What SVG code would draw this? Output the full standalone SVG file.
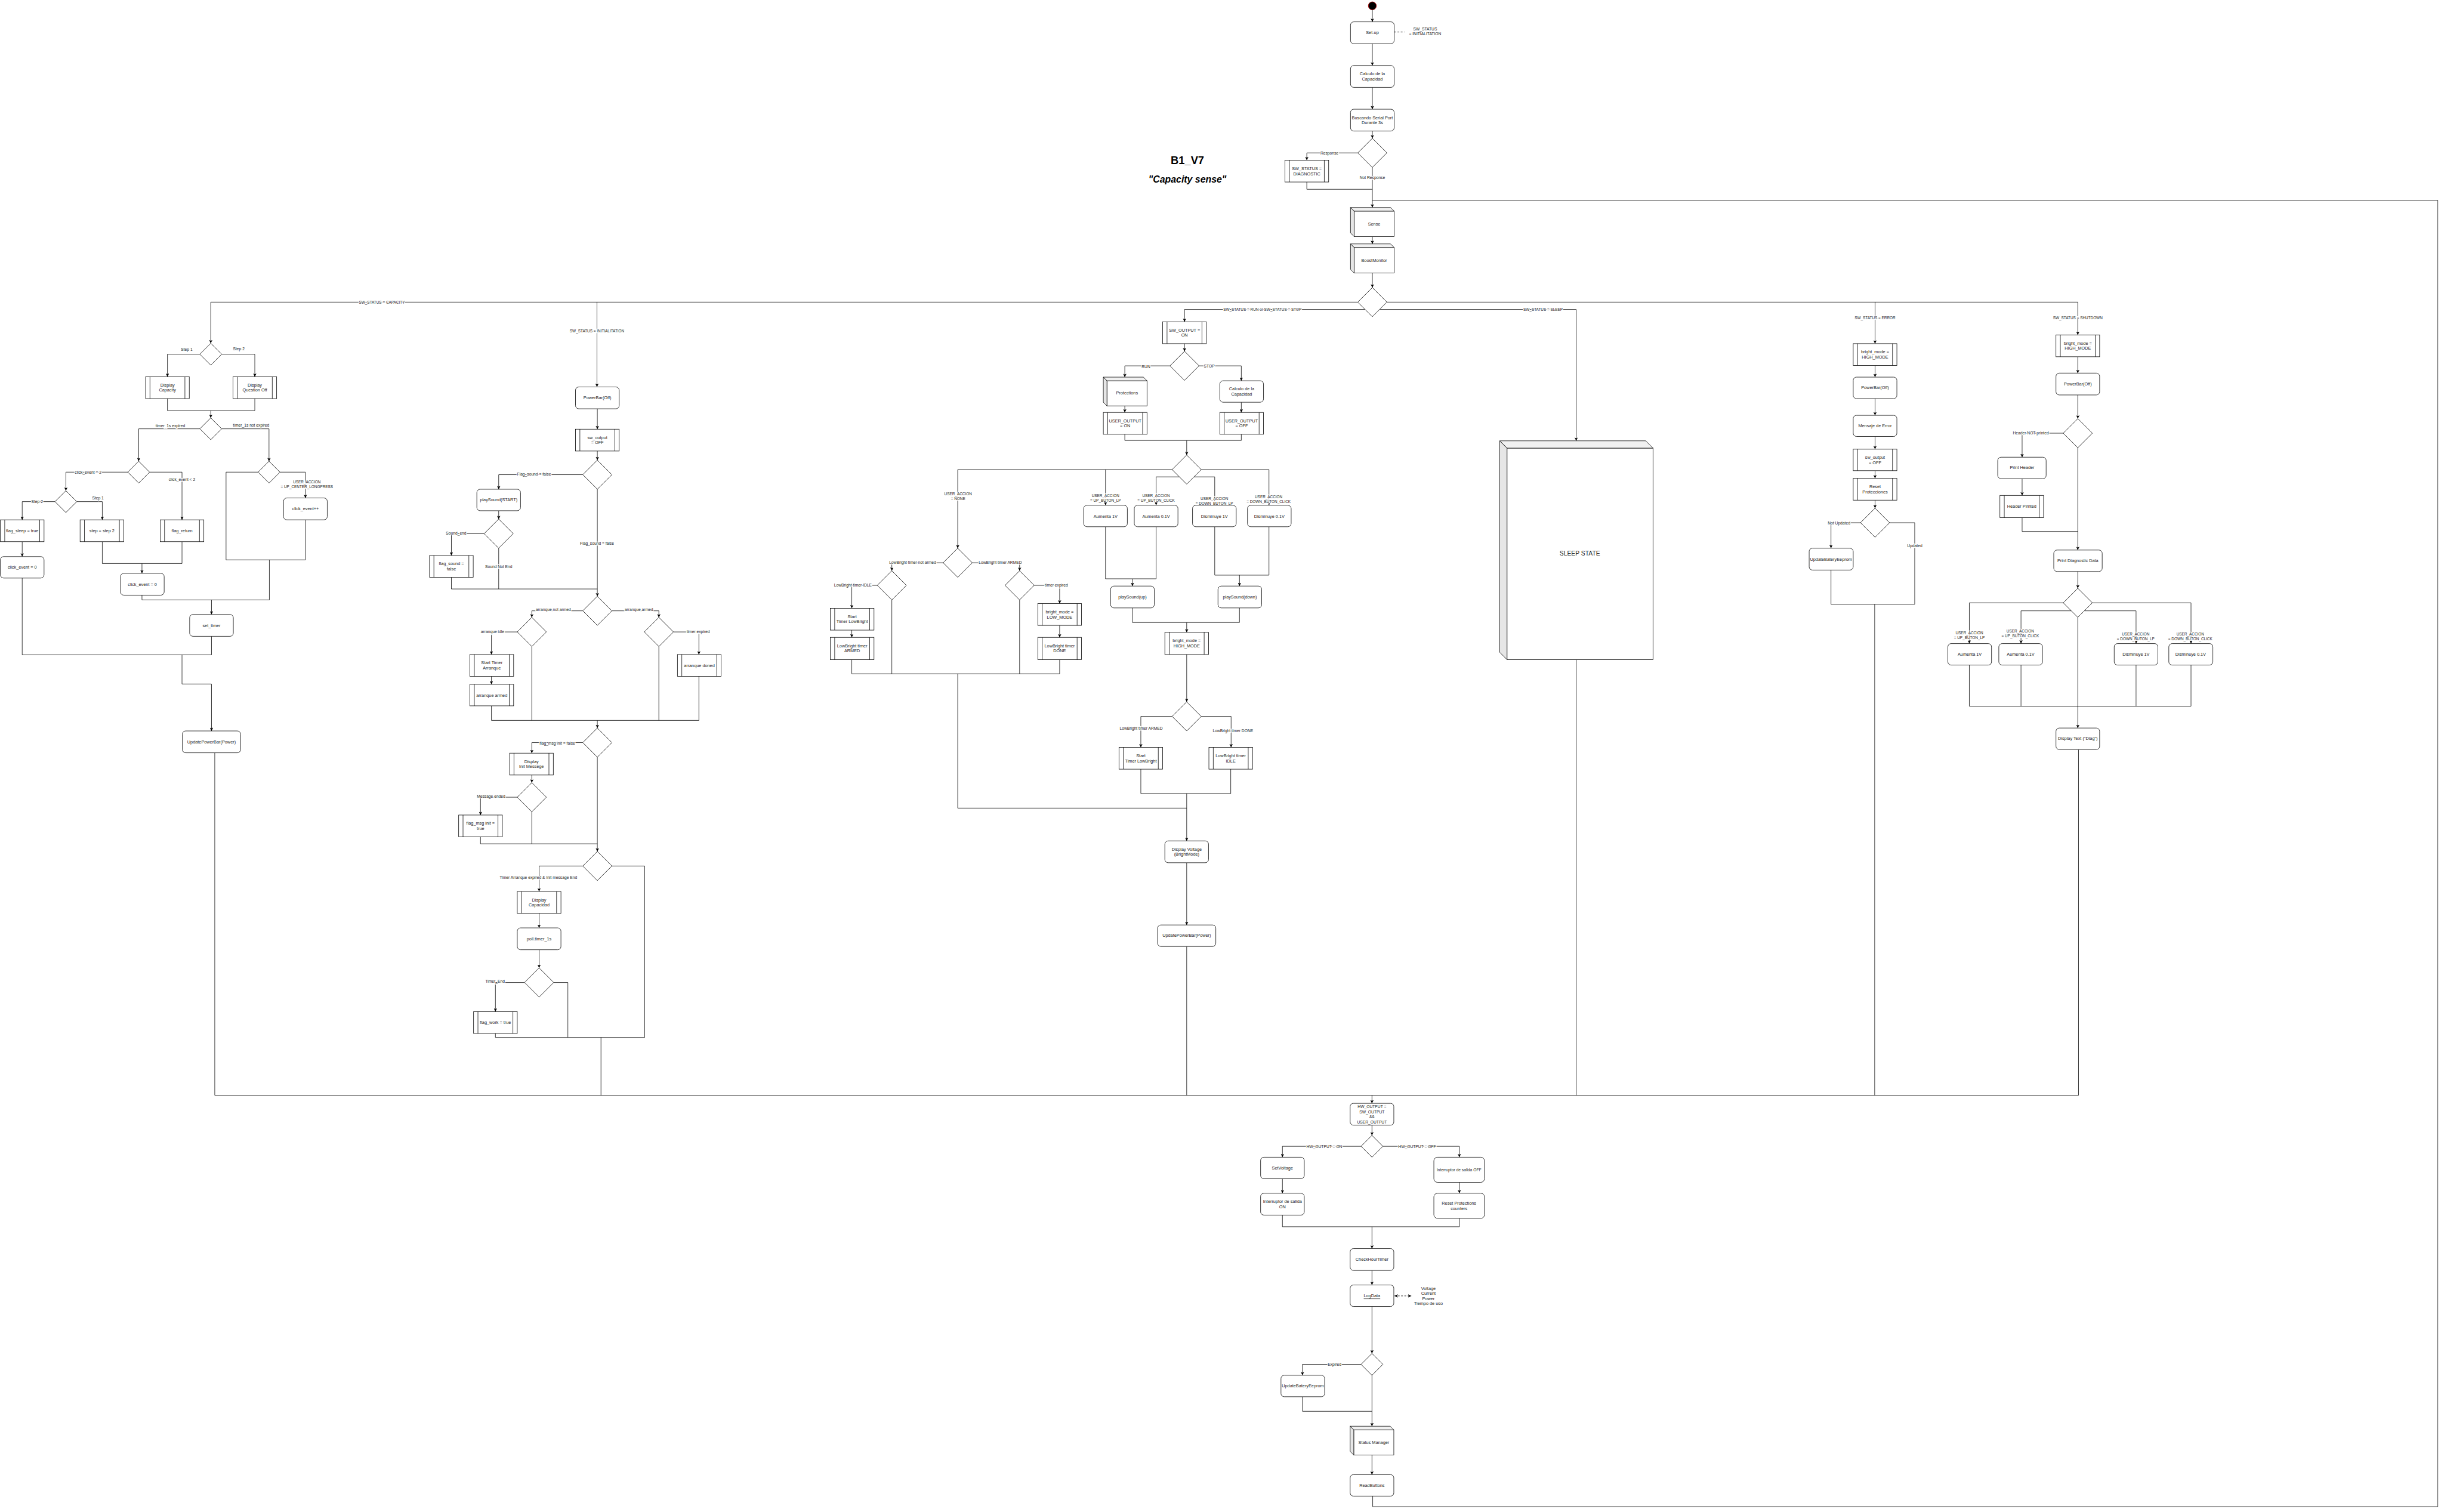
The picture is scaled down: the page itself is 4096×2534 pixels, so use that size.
<svg xmlns="http://www.w3.org/2000/svg" width="4096" height="2534" viewBox="0 0 4096 2534">
<defs>
<style>
.e{fill:none;stroke:#000;stroke-width:1.3}
.a{marker-end:url(#ah)}
.d{stroke-dasharray:5 4}
.b{fill:#fff;stroke:#000;stroke-width:1.3}
.n{fill:none;stroke:#000;stroke-width:1.3}
.tp{fill:#f1f1f1;stroke:#000;stroke-width:1.3}
.sd{fill:#e6e6e6;stroke:#000;stroke-width:1.3}
text{font-family:"Liberation Sans",Arial,sans-serif;fill:#222;text-anchor:middle;dominant-baseline:central}
.t{font-size:12px}
.ts{font-size:11px}
.l{font-size:11px;paint-order:stroke;stroke:#fff;stroke-width:4px;stroke-linejoin:round}
.lu{font-size:10.5px;paint-order:stroke;stroke:#fff;stroke-width:4px;stroke-linejoin:round}
</style>
<marker id="ah" viewBox="0 0 10 10" refX="10" refY="5" markerWidth="7" markerHeight="7" orient="auto-start-reverse" markerUnits="strokeWidth"><path d="M0,0 L10,5 L0,10 L2.5,5 Z" fill="#000"/></marker>
</defs>
<rect width="4096" height="2534" fill="#fff"/>
<g transform="scale(0.61007)">
<g id="connectors">
<path class="e a" d="M3770 27 V60"/>
<path class="e d" d="M3830 88 H3858"/>
<path class="e a" d="M3770 120 V180"/>
<path class="e a" d="M3770 240 V300"/>
<path class="e a" d="M3770 360 V380"/>
<path class="e a" d="M3730 420 H3590 V440"/>
<path class="e" d="M3590 500 V520 H3770"/>
<path class="e a" d="M3770 460 V570"/>
<path class="e a" d="M3770 650 V670"/>
<path class="e a" d="M3770 750 V790"/>
<path class="e" d="M3771 4110 V4139 H6697 V550 H3770"/>
<path class="e a" d="M3730 830 H579 V943"/>
<path class="e a" d="M1640 830 V1063"/>
<path class="e a" d="M3750 850 H3254 V884"/>
<path class="e a" d="M3790 850 H4330 V1211"/>
<path class="e a" d="M3810 830 H5708 V920"/>
<path class="e a" d="M5151 830 V944"/>
<path class="e a" d="M549 973 H460 V1035"/>
<path class="e a" d="M609 973 H700 V1035"/>
<path class="e" d="M460 1095 V1128 H700 V1095"/>
<path class="e a" d="M579 1128 V1148"/>
<path class="e a" d="M549 1178 H381 V1267"/>
<path class="e a" d="M609 1178 H739 V1267"/>
<path class="e a" d="M351 1297 H181 V1348"/>
<path class="e a" d="M411 1297 H500 V1428"/>
<path class="e a" d="M151 1378 H61 V1428"/>
<path class="e a" d="M211 1378 H281 V1428"/>
<path class="e a" d="M61 1488 V1529"/>
<path class="e" d="M281 1488 V1548 H500 V1488"/>
<path class="e a" d="M390 1548 V1575"/>
<path class="e" d="M709 1297 H621 V1538 H839 V1428"/>
<path class="e a" d="M769 1297 H839 V1368"/>
<path class="e" d="M740 1538 V1648"/>
<path class="e" d="M390 1635 V1648 H740"/>
<path class="e a" d="M581 1648 V1688"/>
<path class="e" d="M581 1748 V1799 H61 V1588"/>
<path class="e a" d="M500 1799 V1879 H581 V2008"/>
<path class="e" d="M590 2068 V3009"/>
<path class="e a" d="M1641 1123 V1179"/>
<path class="e a" d="M1641 1239 V1264"/>
<path class="e a" d="M1601 1304 H1370 V1344"/>
<path class="e a" d="M1370 1403 V1426"/>
<path class="e a" d="M1330 1466 H1240 V1526"/>
<path class="e" d="M1370 1506 V1618"/>
<path class="e" d="M1240 1586 V1618 H1641"/>
<path class="e a" d="M1641 1344 V1638"/>
<path class="e a" d="M1601 1678 H1461 V1696"/>
<path class="e a" d="M1681 1678 H1810 V1696"/>
<path class="e a" d="M1421 1736 H1350 V1798"/>
<path class="e a" d="M1350 1858 V1880"/>
<path class="e a" d="M1850 1736 H1920 V1798"/>
<path class="e" d="M1350 1939 V1979 H1920 V1858"/>
<path class="e" d="M1461 1776 V1979"/>
<path class="e" d="M1810 1776 V1979"/>
<path class="e a" d="M1641 1979 V2000"/>
<path class="e a" d="M1601 2040 H1461 V2069"/>
<path class="e a" d="M1461 2129 V2150"/>
<path class="e a" d="M1421 2190 H1320 V2239"/>
<path class="e" d="M1320 2299 V2318 H1641"/>
<path class="e" d="M1461 2230 V2318"/>
<path class="e a" d="M1641 2080 V2339"/>
<path class="e a" d="M1601 2379 H1481 V2449"/>
<path class="e a" d="M1481 2509 V2549"/>
<path class="e a" d="M1481 2609 V2659"/>
<path class="e a" d="M1441 2699 H1361 V2779"/>
<path class="e" d="M1361 2839 V2850 H1771"/>
<path class="e" d="M1521 2699 H1560 V2850"/>
<path class="e" d="M1681 2379 H1771 V2850"/>
<path class="e" d="M1651 2850 V3009"/>
<path class="e a" d="M3254 944 V965"/>
<path class="e a" d="M3214 1005 H3090 V1036"/>
<path class="e a" d="M3294 1005 H3410 V1046"/>
<path class="e a" d="M3090 1115 V1133"/>
<path class="e a" d="M3410 1105 V1133"/>
<path class="e" d="M3090 1193 V1210 H3410 V1193"/>
<path class="e a" d="M3260 1210 V1250"/>
<path class="e a" d="M3220 1290 H2631 V1506"/>
<path class="e a" d="M3037 1290 V1388"/>
<path class="e a" d="M3300 1290 H3486 V1388"/>
<path class="e a" d="M3240 1310 H3176 V1388"/>
<path class="e a" d="M3280 1310 H3337 V1388"/>
<path class="e" d="M3037 1447 V1590 H3176 V1447"/>
<path class="e a" d="M3111 1590 V1610"/>
<path class="e" d="M3337 1447 V1580 H3486 V1447"/>
<path class="e a" d="M3405 1580 V1610"/>
<path class="e" d="M3111 1670 V1710 H3405 V1670"/>
<path class="e a" d="M3260 1710 V1737"/>
<path class="e a" d="M3260 1798 V1928"/>
<path class="e a" d="M3220 1968 H3134 V2053"/>
<path class="e a" d="M3300 1968 H3382 V2053"/>
<path class="e" d="M3134 2113 V2180 H3381 V2113"/>
<path class="e a" d="M3260 2180 V2310"/>
<path class="e" d="M2631 1851 V2220 H3260"/>
<path class="e a" d="M3260 2370 V2541"/>
<path class="e" d="M3260 2600 V3009"/>
<path class="e a" d="M2591 1546 H2450 V1568"/>
<path class="e a" d="M2671 1546 H2801 V1568"/>
<path class="e a" d="M2410 1608 H2340 V1671"/>
<path class="e a" d="M2340 1731 V1751"/>
<path class="e a" d="M2841 1608 H2911 V1658"/>
<path class="e a" d="M2911 1718 V1751"/>
<path class="e" d="M2340 1812 V1851 H2911 V1812"/>
<path class="e" d="M2450 1648 V1851"/>
<path class="e" d="M2801 1648 V1851"/>
<path class="e" d="M4330 1812 V3009"/>
<path class="e a" d="M5151 1004 V1036"/>
<path class="e a" d="M5151 1095 V1141"/>
<path class="e a" d="M5151 1199 V1234"/>
<path class="e a" d="M5151 1293 V1314"/>
<path class="e a" d="M5151 1374 V1396"/>
<path class="e a" d="M5111 1436 H5030 V1506"/>
<path class="e" d="M5191 1436 H5260 V1660 H5030 V1566"/>
<path class="e" d="M5150 1660 V3009"/>
<path class="e a" d="M5708 980 V1025"/>
<path class="e a" d="M5708 1085 V1150"/>
<path class="e a" d="M5668 1190 H5555 V1256"/>
<path class="e a" d="M5555 1315 V1361"/>
<path class="e" d="M5555 1422 V1460 H5708"/>
<path class="e a" d="M5708 1230 V1511"/>
<path class="e a" d="M5708 1570 V1616"/>
<path class="e a" d="M5668 1656 H5410 V1768"/>
<path class="e a" d="M5748 1656 H6019 V1768"/>
<path class="e a" d="M5690 1678 H5552 V1768"/>
<path class="e a" d="M5726 1678 H5868 V1768"/>
<path class="e" d="M5410 1827 V1940 H6019 V1827"/>
<path class="e" d="M5552 1827 V1940"/>
<path class="e" d="M5868 1827 V1940"/>
<path class="e a" d="M5708 1696 V2000"/>
<path class="e" d="M5710 2059 V3009"/>
<path class="e" d="M590 3009 H5710"/>
<path class="e a" d="M3769 3009 V3031"/>
<path class="e a" d="M3769 3091 V3119"/>
<path class="e a" d="M3739 3149 H3523 V3179"/>
<path class="e a" d="M3799 3149 H4009 V3179"/>
<path class="e a" d="M3523 3238 V3278"/>
<path class="e a" d="M4009 3248 V3278"/>
<path class="e" d="M3523 3338 V3370 H4009 V3347"/>
<path class="e a" d="M3769 3370 V3430"/>
<path class="e a" d="M3769 3490 V3530"/>
<path class="e a d" style="marker-start:url(#ah)" d="M3831 3560 H3877"/>
<path class="e a" d="M3769 3589 V3718"/>
<path class="e a" d="M3739 3748 H3578 V3778"/>
<path class="e" d="M3578 3837 V3877 H3769"/>
<path class="e a" d="M3769 3778 V3918"/>
<path class="e a" d="M3769 3997 V4051"/>
<text class="l" x="3652" y="420">Response</text>
<text class="l" x="3770" y="488">Not Response</text>
<text class="lu" x="1049" y="830">SW_STATUS = CAPACITY</text>
<text class="lu" x="1640" y="909">SW_STATUS = INITIALITATION</text>
<text class="lu" x="3468" y="850">SW_STATUS = RUN or SW_STATUS = STOP</text>
<text class="lu" x="4239" y="850">SW_STATUS = SLEEP</text>
<text class="lu" x="5151" y="873">SW_STATUS = ERROR</text>
<text class="lu" x="5708" y="873">SW_STATUS = SHUTDOWN</text>
<text class="l" x="513" y="960">Step 1</text>
<text class="l" x="656" y="958">Step 2</text>
<text class="l" x="468" y="1169">timer_1s expired</text>
<text class="l" x="690" y="1168">timer_1s not expired</text>
<text class="l" x="242" y="1297">click_event = 2</text>
<text class="l" x="500" y="1317">click_event &lt; 2</text>
<text class="l" x="102" y="1378">Step 2</text>
<text class="l" x="269" y="1368">Step 1</text>
<text class="lu" x="843" y="1324">USER_ACCION</text>
<text class="lu" x="843" y="1337">= UP_CENTER_LONGPRESS</text>
<text class="l" x="1467" y="1303">Flag_sound = false</text>
<text class="l" x="1253" y="1465">Sound_end</text>
<text class="l" x="1370" y="1556">Sound Not End</text>
<text class="l" x="1640" y="1493">Flag_sound = false</text>
<text class="l" x="1520" y="1675">arranque not armed</text>
<text class="l" x="1755" y="1675">arranque armed</text>
<text class="l" x="1353" y="1735">arranque idle</text>
<text class="l" x="1918" y="1735">timer expired</text>
<text class="l" x="1531" y="2042">flag_msg init = false</text>
<text class="l" x="1349" y="2188">Message ended</text>
<text class="l" x="1479" y="2411">Timer Arranque expired &amp; Init message End</text>
<text class="l" x="1360" y="2696">Timer_End</text>
<text class="l" x="3148" y="1008">RUN</text>
<text class="l" x="3322" y="1005">STOP</text>
<text class="lu" x="2632" y="1356">USER_ACCION</text>
<text class="lu" x="2632" y="1369">= NONE</text>
<text class="lu" x="3037" y="1361">USER_ACCION</text>
<text class="lu" x="3037" y="1375">= UP_BUTON_LP</text>
<text class="lu" x="3176" y="1362">USER_ACCION</text>
<text class="lu" x="3176" y="1375">= UP_BUTON_CLICK</text>
<text class="lu" x="3336" y="1370">USER_ACCION</text>
<text class="lu" x="3336" y="1383">= DOWN_BUTON_LP</text>
<text class="lu" x="3485" y="1364">USER_ACCION</text>
<text class="lu" x="3485" y="1377">= DOWN_BUTON_CLICK</text>
<text class="l" x="2507" y="1545">LowBright timer not armed</text>
<text class="l" x="2748" y="1545">LowBright timer ARMED</text>
<text class="l" x="2343" y="1608">LowBright timer IDLE</text>
<text class="l" x="2902" y="1608">timer expired</text>
<text class="l" x="3135" y="2001">LowBright timer ARMED</text>
<text class="l" x="3387" y="2007">LowBright timer DONE</text>
<text class="l" x="5052" y="1437">Not Updated</text>
<text class="l" x="5260" y="1499">Updated</text>
<text class="l" x="5579" y="1190">Header  NOT printed</text>
<text class="lu" x="5410" y="1739">USER_ACCION</text>
<text class="lu" x="5410" y="1751">= UP_BUTON_LP</text>
<text class="lu" x="5550" y="1734">USER_ACCION</text>
<text class="lu" x="5550" y="1747">= UP_BUTON_CLICK</text>
<text class="lu" x="5867" y="1742">USER_ACCION</text>
<text class="lu" x="5867" y="1755">= DOWN_BUTON_LP</text>
<text class="lu" x="6017" y="1742">USER_ACCION</text>
<text class="lu" x="6017" y="1755">= DOWN_BUTON_CLICK</text>
<text class="l" x="3638" y="3149">HW_OUTPUT = ON</text>
<text class="l" x="3893" y="3149">HW_OUTPUT = OFF</text>
<text class="l" x="3666" y="3748">Expired</text>
</g>
<g id="nodes">
<g id="title"><text x="3262" y="440" style="font-size:30px;font-weight:bold;fill:#000">B1_V7</text><text x="3262" y="492" style="font-size:26px;font-weight:bold;font-style:italic;fill:#000">"Capacity sense"</text></g>
<g id="start"><circle cx="3770" cy="16" r="11" fill="#000" stroke="#a00" stroke-width="1.5"/></g>
<g id="setup"><rect class="b" x="3710" y="60" width="120" height="60" rx="9"/><text class="t" x="3770" y="90">Set-up</text></g>
<g id="note-init"><text class="ts" x="3915" y="79">SW_STATUS</text><text class="ts" x="3915" y="92">= INITIALITATION</text></g>
<g id="calc1"><rect class="b" x="3710" y="180" width="120" height="60" rx="9"/><text class="t" x="3770" y="203">Calculo de la</text><text class="t" x="3770" y="217">Capacidad</text></g>
<g id="serial"><rect class="b" x="3710" y="300" width="120" height="60" rx="9"/><text class="t" x="3770" y="323">Buscando Serial Port</text><text class="t" x="3770" y="337">Durante 3s</text></g>
<g id="d-serial"><path class="b" d="M3770 380 L3810 420 L3770 460 L3730 420 Z"/></g>
<g id="diag"><rect class="b" x="3530" y="440" width="120" height="60"/><path class="n" d="M3542 440 V500 M3638 440 V500"/><text class="t" x="3590" y="463">SW_STATUS =</text><text class="t" x="3590" y="477">DIAGNOSTIC</text></g>
<g id="sense"><rect class="b" x="3720" y="580" width="110" height="70"/><polygon class="tp" points="3710,570 3820,570 3830,580 3720,580"/><polygon class="sd" points="3710,570 3720,580 3720,650 3710,640"/><text class="t" x="3775" y="615">Sense</text></g>
<g id="boost"><rect class="b" x="3720" y="680" width="110" height="70"/><polygon class="tp" points="3710,670 3820,670 3830,680 3720,680"/><polygon class="sd" points="3710,670 3720,680 3720,750 3710,740"/><text class="t" x="3775" y="715">BoostMonitor</text></g>
<g id="d-main"><path class="b" d="M3770 790 L3810 830 L3770 870 L3730 830 Z"/></g>

<g id="d-step"><path class="b" d="M579 943 L609 973 L579 1003 L549 973 Z"/></g>
<g id="disp-cap"><rect class="b" x="400" y="1035" width="120" height="60"/><path class="n" d="M412 1035 V1095 M508 1035 V1095"/><text class="t" x="460" y="1058">Display</text><text class="t" x="460" y="1072">Capacity</text></g>
<g id="disp-q"><rect class="b" x="640" y="1035" width="120" height="60"/><path class="n" d="M652 1035 V1095 M748 1035 V1095"/><text class="t" x="700" y="1058">Display</text><text class="t" x="700" y="1072">Question Off</text></g>
<g id="d-timer"><path class="b" d="M579 1148 L609 1178 L579 1208 L549 1178 Z"/></g>
<g id="d-click"><path class="b" d="M381 1267 L411 1297 L381 1327 L351 1297 Z"/></g>
<g id="d-user"><path class="b" d="M739 1267 L769 1297 L739 1327 L709 1297 Z"/></g>
<g id="d-step2"><path class="b" d="M181 1348 L211 1378 L181 1408 L151 1378 Z"/></g>
<g id="flag-sleep"><rect class="b" x="1" y="1428" width="120" height="60"/><path class="n" d="M13 1428 V1488 M109 1428 V1488"/><text class="t" x="61" y="1458">flag_sleep = true</text></g>
<g id="step2"><rect class="b" x="220" y="1428" width="120" height="60"/><path class="n" d="M232 1428 V1488 M328 1428 V1488"/><text class="t" x="280" y="1458">step = step 2</text></g>
<g id="flag-return"><rect class="b" x="440" y="1428" width="120" height="60"/><path class="n" d="M452 1428 V1488 M548 1428 V1488"/><text class="t" x="500" y="1458">flag_return</text></g>
<g id="click0a"><rect class="b" x="1" y="1529" width="120" height="59" rx="9"/><text class="t" x="61" y="1558">click_event = 0</text></g>
<g id="click0b"><rect class="b" x="331" y="1575" width="120" height="60" rx="9"/><text class="t" x="391" y="1605">click_event = 0</text></g>
<g id="clickpp"><rect class="b" x="779" y="1368" width="120" height="60" rx="9"/><text class="t" x="839" y="1398">click_event++</text></g>
<g id="set-timer"><rect class="b" x="521" y="1688" width="120" height="60" rx="9"/><text class="t" x="581" y="1718">set_timer</text></g>
<g id="upb1"><rect class="b" x="501" y="2008" width="160" height="60" rx="9"/><text class="t" x="581" y="2038">UpdatePowerBar(Power)</text></g>

<g id="pb-off1"><rect class="b" x="1581" y="1063" width="120" height="60" rx="9"/><text class="t" x="1641" y="1093">PowerBar(Off)</text></g>
<g id="swout1"><rect class="b" x="1581" y="1179" width="120" height="60"/><path class="n" d="M1593 1179 V1239 M1689 1179 V1239"/><text class="t" x="1641" y="1202">sw_output</text><text class="t" x="1641" y="1216">= OFF</text></g>
<g id="d-sound"><path class="b" d="M1641 1264 L1681 1304 L1641 1344 L1601 1304 Z"/></g>
<g id="play-start"><rect class="b" x="1310" y="1344" width="120" height="59" rx="9"/><text class="t" x="1370" y="1373">playSound(START)</text></g>
<g id="d-soundend"><path class="b" d="M1370 1426 L1410 1466 L1370 1506 L1330 1466 Z"/></g>
<g id="flag-sound"><rect class="b" x="1180" y="1526" width="120" height="60"/><path class="n" d="M1192 1526 V1586 M1288 1526 V1586"/><text class="t" x="1240" y="1549">flag_sound =</text><text class="t" x="1240" y="1563">false</text></g>
<g id="d-arr"><path class="b" d="M1641 1638 L1681 1678 L1641 1718 L1601 1678 Z"/></g>
<g id="d-idle"><path class="b" d="M1461 1696 L1501 1736 L1461 1776 L1421 1736 Z"/></g>
<g id="start-arr"><rect class="b" x="1291" y="1798" width="120" height="60"/><path class="n" d="M1303 1798 V1858 M1399 1798 V1858"/><text class="t" x="1351" y="1821">Start Timer</text><text class="t" x="1351" y="1835">Arranque</text></g>
<g id="arr-armed"><rect class="b" x="1291" y="1880" width="120" height="59"/><path class="n" d="M1303 1880 V1939 M1399 1880 V1939"/><text class="t" x="1351" y="1910">arranque armed</text></g>
<g id="d-timer2"><path class="b" d="M1810 1696 L1850 1736 L1810 1776 L1770 1736 Z"/></g>
<g id="arr-doned"><rect class="b" x="1861" y="1798" width="120" height="60"/><path class="n" d="M1873 1798 V1858 M1969 1798 V1858"/><text class="t" x="1921" y="1828">arranque doned</text></g>
<g id="d-msg"><path class="b" d="M1641 2000 L1681 2040 L1641 2080 L1601 2040 Z"/></g>
<g id="disp-init"><rect class="b" x="1400" y="2069" width="120" height="60"/><path class="n" d="M1412 2069 V2129 M1508 2069 V2129"/><text class="t" x="1460" y="2092">Display</text><text class="t" x="1460" y="2106">Init Messege</text></g>
<g id="d-msgend"><path class="b" d="M1461 2150 L1501 2190 L1461 2230 L1421 2190 Z"/></g>
<g id="flag-msg"><rect class="b" x="1260" y="2239" width="120" height="60"/><path class="n" d="M1272 2239 V2299 M1368 2239 V2299"/><text class="t" x="1320" y="2262">flag_msg init =</text><text class="t" x="1320" y="2276">true</text></g>
<g id="d-final"><path class="b" d="M1641 2339 L1681 2379 L1641 2419 L1601 2379 Z"/></g>
<g id="disp-capac"><rect class="b" x="1421" y="2449" width="120" height="60"/><path class="n" d="M1433 2449 V2509 M1529 2449 V2509"/><text class="t" x="1481" y="2472">Display</text><text class="t" x="1481" y="2486">Capacidad</text></g>
<g id="poll"><rect class="b" x="1421" y="2549" width="120" height="60" rx="9"/><text class="t" x="1481" y="2579">poll.timer_1s</text></g>
<g id="d-tend"><path class="b" d="M1481 2659 L1521 2699 L1481 2739 L1441 2699 Z"/></g>
<g id="flag-work"><rect class="b" x="1301" y="2779" width="120" height="60"/><path class="n" d="M1313 2779 V2839 M1409 2779 V2839"/><text class="t" x="1361" y="2809">flag_work = true</text></g>

<g id="swout-on"><rect class="b" x="3194" y="884" width="120" height="60"/><path class="n" d="M3206 884 V944 M3302 884 V944"/><text class="t" x="3254" y="907">SW_OUTPUT =</text><text class="t" x="3254" y="921">ON</text></g>
<g id="d-runstop"><path class="b" d="M3254 965 L3294 1005 L3254 1045 L3214 1005 Z"/></g>
<g id="protections"><rect class="b" x="3041" y="1046" width="110" height="69"/><polygon class="tp" points="3031,1036 3141,1036 3151,1046 3041,1046"/><polygon class="sd" points="3031,1036 3041,1046 3041,1115 3031,1105"/><text class="t" x="3096" y="1080">Protections</text></g>
<g id="calc2"><rect class="b" x="3351" y="1046" width="120" height="59" rx="9"/><text class="t" x="3411" y="1068">Calculo de la</text><text class="t" x="3411" y="1082">Capacidad</text></g>
<g id="uo-on"><rect class="b" x="3031" y="1133" width="120" height="60"/><path class="n" d="M3043 1133 V1193 M3139 1133 V1193"/><text class="t" x="3091" y="1156">USER_OUTPUT</text><text class="t" x="3091" y="1170">= ON</text></g>
<g id="uo-off"><rect class="b" x="3351" y="1133" width="120" height="60"/><path class="n" d="M3363 1133 V1193 M3459 1133 V1193"/><text class="t" x="3411" y="1156">USER_OUTPUT</text><text class="t" x="3411" y="1170">= OFF</text></g>
<g id="d-ua"><path class="b" d="M3260 1250 L3300 1290 L3260 1330 L3220 1290 Z"/></g>
<g id="aum1"><rect class="b" x="2977" y="1388" width="120" height="59" rx="9"/><text class="t" x="3037" y="1418">Aumenta 1V</text></g>
<g id="aum01"><rect class="b" x="3116" y="1388" width="120" height="59" rx="9"/><text class="t" x="3176" y="1418">Aumenta 0.1V</text></g>
<g id="dis1"><rect class="b" x="3276" y="1388" width="120" height="59" rx="9"/><text class="t" x="3336" y="1418">Disminuye 1V</text></g>
<g id="dis01"><rect class="b" x="3427" y="1388" width="120" height="59" rx="9"/><text class="t" x="3487" y="1418">Disminuye 0.1V</text></g>
<g id="ps-up"><rect class="b" x="3051" y="1610" width="120" height="60" rx="9"/><text class="t" x="3111" y="1640">playSound(up)</text></g>
<g id="ps-down"><rect class="b" x="3346" y="1610" width="120" height="60" rx="9"/><text class="t" x="3406" y="1640">playSound(down)</text></g>
<g id="bm-high1"><rect class="b" x="3200" y="1737" width="120" height="61"/><path class="n" d="M3212 1737 V1798 M3308 1737 V1798"/><text class="t" x="3260" y="1760">bright_mode =</text><text class="t" x="3260" y="1774">HIGH_MODE</text></g>
<g id="d-lb2"><path class="b" d="M3260 1928 L3300 1968 L3260 2008 L3220 1968 Z"/></g>
<g id="stlb2"><rect class="b" x="3074" y="2053" width="120" height="60"/><path class="n" d="M3086 2053 V2113 M3182 2053 V2113"/><text class="t" x="3134" y="2076">Start</text><text class="t" x="3134" y="2090">Timer LowBright</text></g>
<g id="lbidle"><rect class="b" x="3321" y="2053" width="120" height="60"/><path class="n" d="M3333 2053 V2113 M3429 2053 V2113"/><text class="t" x="3381" y="2076">LowBright timer</text><text class="t" x="3381" y="2090">IDLE</text></g>
<g id="disp-volt"><rect class="b" x="3200" y="2310" width="120" height="60" rx="9"/><text class="t" x="3260" y="2333">Display Voltage</text><text class="t" x="3260" y="2347">(BrightMode)</text></g>
<g id="upb2"><rect class="b" x="3180" y="2541" width="160" height="59" rx="9"/><text class="t" x="3260" y="2570">UpdatePowerBar(Power)</text></g>
<g id="d-lb"><path class="b" d="M2631 1506 L2671 1546 L2631 1586 L2591 1546 Z"/></g>
<g id="d-lbidle"><path class="b" d="M2450 1568 L2490 1608 L2450 1648 L2410 1608 Z"/></g>
<g id="stlb1"><rect class="b" x="2281" y="1671" width="120" height="60"/><path class="n" d="M2293 1671 V1731 M2389 1671 V1731"/><text class="t" x="2341" y="1694">Start</text><text class="t" x="2341" y="1708">Timer LowBright</text></g>
<g id="lbarmed"><rect class="b" x="2281" y="1751" width="120" height="61"/><path class="n" d="M2293 1751 V1812 M2389 1751 V1812"/><text class="t" x="2341" y="1774">LowBright timer</text><text class="t" x="2341" y="1788">ARMED</text></g>
<g id="d-lbtimer"><path class="b" d="M2801 1568 L2841 1608 L2801 1648 L2761 1608 Z"/></g>
<g id="bm-low"><rect class="b" x="2851" y="1658" width="120" height="60"/><path class="n" d="M2863 1658 V1718 M2959 1658 V1718"/><text class="t" x="2911" y="1681">bright_mode =</text><text class="t" x="2911" y="1695">LOW_MODE</text></g>
<g id="lbdone"><rect class="b" x="2851" y="1751" width="120" height="61"/><path class="n" d="M2863 1751 V1812 M2959 1751 V1812"/><text class="t" x="2911" y="1774">LowBright timer</text><text class="t" x="2911" y="1788">DONE</text></g>

<g id="sleep"><rect class="b" x="4140" y="1231" width="401" height="581"/><polygon class="tp" points="4120,1211 4521,1211 4541,1231 4140,1231"/><polygon class="sd" points="4120,1211 4140,1231 4140,1812 4120,1792"/><text x="4340" y="1521" style="font-size:17px">SLEEP STATE</text></g>

<g id="bm-high2"><rect class="b" x="5091" y="944" width="120" height="60"/><path class="n" d="M5103 944 V1004 M5199 944 V1004"/><text class="t" x="5151" y="967">bright_mode =</text><text class="t" x="5151" y="981">HIGH_MODE</text></g>
<g id="pb-off2"><rect class="b" x="5091" y="1036" width="120" height="59" rx="9"/><text class="t" x="5151" y="1065">PowerBar(Off)</text></g>
<g id="msg-err"><rect class="b" x="5091" y="1141" width="120" height="58" rx="9"/><text class="t" x="5151" y="1170">Mensaje de Error</text></g>
<g id="swout2"><rect class="b" x="5091" y="1234" width="120" height="59"/><path class="n" d="M5103 1234 V1293 M5199 1234 V1293"/><text class="t" x="5151" y="1257">sw_output</text><text class="t" x="5151" y="1271">= OFF</text></g>
<g id="reset-prot"><rect class="b" x="5091" y="1314" width="120" height="60"/><path class="n" d="M5103 1314 V1374 M5199 1314 V1374"/><text class="t" x="5151" y="1337">Reset</text><text class="t" x="5151" y="1351">Protecciones</text></g>
<g id="d-upd"><path class="b" d="M5151 1396 L5191 1436 L5151 1476 L5111 1436 Z"/></g>
<g id="upd-eep1"><rect class="b" x="4970" y="1506" width="121" height="60" rx="9"/><text class="t" x="5030" y="1536">UpdateBateryEeprom</text></g>

<g id="bm-high3"><rect class="b" x="5648" y="920" width="120" height="60"/><path class="n" d="M5660 920 V980 M5756 920 V980"/><text class="t" x="5708" y="943">bright_mode =</text><text class="t" x="5708" y="957">HIGH_MODE</text></g>
<g id="pb-off3"><rect class="b" x="5648" y="1025" width="120" height="60" rx="9"/><text class="t" x="5708" y="1055">PowerBar(Off)</text></g>
<g id="d-header"><path class="b" d="M5708 1150 L5748 1190 L5708 1230 L5668 1190 Z"/></g>
<g id="print-header"><rect class="b" x="5488" y="1256" width="133" height="59" rx="9"/><text class="t" x="5555" y="1285">Print Header</text></g>
<g id="header-printed"><rect class="b" x="5494" y="1361" width="120" height="61"/><path class="n" d="M5506 1361 V1422 M5602 1361 V1422"/><text class="t" x="5554" y="1391">Header Pirnted</text></g>
<g id="print-diag"><rect class="b" x="5642" y="1511" width="133" height="59" rx="9"/><text class="t" x="5708" y="1540">Print Diagnostic Data</text></g>
<g id="d-ua2"><path class="b" d="M5708 1616 L5748 1656 L5708 1696 L5668 1656 Z"/></g>
<g id="aum1b"><rect class="b" x="5351" y="1768" width="120" height="59" rx="9"/><text class="t" x="5411" y="1797">Aumenta 1V</text></g>
<g id="aum01b"><rect class="b" x="5491" y="1768" width="120" height="59" rx="9"/><text class="t" x="5551" y="1797">Aumenta 0.1V</text></g>
<g id="dis1b"><rect class="b" x="5808" y="1768" width="120" height="59" rx="9"/><text class="t" x="5868" y="1797">Disminuye 1V</text></g>
<g id="dis01b"><rect class="b" x="5958" y="1768" width="121" height="59" rx="9"/><text class="t" x="6018" y="1797">Disminuye 0.1V</text></g>
<g id="disp-diag"><rect class="b" x="5648" y="2000" width="120" height="59" rx="9"/><text class="t" x="5708" y="2029">Display Text ("Diag")</text></g>

<g id="hw-out"><rect class="b" x="3709" y="3031" width="120" height="60" rx="9"/><text class="ts" x="3769" y="3040">HW_OUTPUT =</text><text class="ts" x="3769" y="3054">SW_OUTPUT</text><text class="ts" x="3769" y="3068">&amp;&amp;</text><text class="ts" x="3769" y="3082">USER_OUTPUT</text></g>
<g id="d-hw"><path class="b" d="M3769 3119 L3799 3149 L3769 3179 L3739 3149 Z"/></g>
<g id="setvolt"><rect class="b" x="3463" y="3179" width="120" height="59" rx="9"/><text class="t" x="3523" y="3208">SetVoltage</text></g>
<g id="int-on"><rect class="b" x="3463" y="3278" width="120" height="60" rx="9"/><text class="t" x="3523" y="3301">Interruptor de salida</text><text class="t" x="3523" y="3315">ON</text></g>
<g id="int-off"><rect class="b" x="3939" y="3179" width="139" height="69" rx="10"/><text class="ts" x="4008" y="3214">Interruptor de salida OFF</text></g>
<g id="reset-pc"><rect class="b" x="3939" y="3278" width="139" height="69" rx="10"/><text class="t" x="4008" y="3306">Reset Protections</text><text class="t" x="4008" y="3320">counters</text></g>
<g id="checkhour"><rect class="b" x="3709" y="3430" width="120" height="60" rx="9"/><text class="t" x="3769" y="3460">CheckHourTimer</text></g>
<g id="logdata"><rect class="b" x="3709" y="3530" width="120" height="59" rx="9"/><text class="t" x="3769" y="3560" style="text-decoration:underline">LogData</text></g>
<g id="log-note"><text class="t" x="3924" y="3539">Voltage</text><text class="t" x="3924" y="3553">Current</text><text class="t" x="3924" y="3567">Power</text><text class="t" x="3924" y="3581">Tiempo de uso</text></g>
<g id="d-exp"><path class="b" d="M3769 3718 L3799 3748 L3769 3778 L3739 3748 Z"/></g>
<g id="upd-eep2"><rect class="b" x="3519" y="3778" width="120" height="59" rx="9"/><text class="t" x="3579" y="3807">UpdateBateryEeprom</text></g>
<g id="status-mgr"><rect class="b" x="3719" y="3928" width="110" height="69"/><polygon class="tp" points="3709,3918 3819,3918 3829,3928 3719,3928"/><polygon class="sd" points="3709,3918 3719,3928 3719,3997 3709,3987"/><text class="t" x="3774" y="3962">Status Manager</text></g>
<g id="readbtn"><rect class="b" x="3709" y="4051" width="120" height="59" rx="9"/><text class="t" x="3769" y="4080">ReadButtons</text></g>
</g>
</g>
</svg>
